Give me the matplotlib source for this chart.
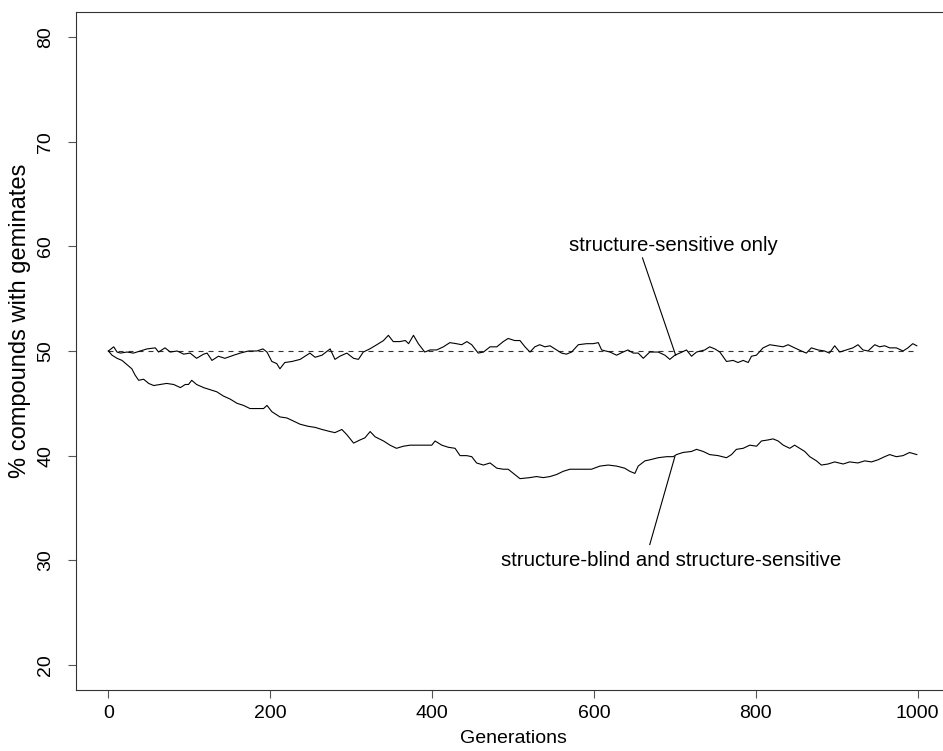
import matplotlib
matplotlib.use("Agg")
import matplotlib.pyplot as plt

plt.rcParams['font.family'] = ['Liberation Sans', 'DejaVu Sans']

# structure-sensitive only (upper line)
gen_a = [0, 6.6, 10.7, 14.8, 23, 31, 39.5, 47.7, 58, 62, 70, 76.5, 85, 93, 101, 109, 117.7,
         122, 128, 136, 144, 155, 163, 173, 183.5, 191, 196, 202, 208, 212, 218, 227, 237,
         249, 255.5, 264, 274, 280, 286, 294.7, 303, 309, 315, 323, 331.7, 340, 346, 352,
         360, 367, 371, 377, 383, 391, 397.5, 405.7, 414, 422, 430, 436.6, 443, 449, 457,
         463.5, 471.7, 480, 488, 494, 502, 508.6, 514.8, 521, 527, 533, 539.5, 545.7, 554,
         560, 566, 572.4, 580.7, 591, 599, 605.4, 609.5, 619.8, 628, 636, 642, 648.6, 654.7,
         661, 669, 679.4, 687.7, 693.8, 700, 706, 714.4, 720.6, 726.8, 737, 743, 749.4, 755.6,
         763.8, 772, 778, 784.4, 790.6, 794.7, 800.8, 809, 817.3, 825.5, 833.8, 840, 848,
         856.4, 862.5, 868.7, 877, 885, 891, 897.5, 903.7, 912, 920, 926.3, 932.5, 938.7,
         947, 953, 959.3, 965.4, 973.7, 982, 988, 994, 999]
pct_a = [50.0, 50.4, 49.9, 49.8, 49.9, 49.8, 50.0, 50.2, 50.3, 49.9, 50.3, 49.9, 50.0, 49.7,
         49.8, 49.3, 49.7, 49.8, 49.1, 49.5, 49.3, 49.6, 49.8, 50.0, 50.0, 50.2, 49.9, 49.0,
         48.8, 48.3, 48.9, 49.0, 49.2, 49.8, 49.4, 49.6, 50.2, 49.2, 49.5, 49.8, 49.3, 49.2,
         49.9, 50.2, 50.6, 51.0, 51.5, 50.9, 50.9, 51.0, 50.7, 51.5, 50.7, 49.9, 50.1, 50.1,
         50.4, 50.8, 50.7, 50.6, 50.9, 50.6, 49.8, 49.9, 50.4, 50.4, 50.9, 51.2, 51.0, 51.0,
         50.4, 49.9, 50.4, 50.6, 50.4, 50.5, 50.1, 49.8, 49.7, 49.9, 50.6, 50.7, 50.7, 50.8,
         50.1, 49.9, 49.6, 49.9, 50.1, 49.8, 49.8, 49.3, 49.9, 49.9, 49.6, 49.2, 49.6, 49.8,
         50.1, 49.5, 49.9, 50.1, 50.4, 50.2, 49.9, 49.0, 49.1, 48.9, 49.1, 48.9, 49.5, 49.6,
         50.3, 50.6, 50.5, 50.4, 50.6, 50.3, 50.0, 49.8, 50.3, 50.1, 50.0, 49.8, 50.5, 49.9,
         50.1, 50.3, 50.6, 50.1, 50.0, 50.6, 50.4, 50.5, 50.3, 50.3, 50.0, 50.3, 50.7, 50.5]

# structure-blind and structure-sensitive (lower line)
gen_b = [0, 4.5, 10.7, 16.9, 23, 29, 33, 37.4, 43.6, 49.8, 56, 64, 72, 80.7, 89, 95, 99, 103,
         109, 117.7, 126, 134, 142, 150.6, 159, 167, 175, 183.5, 191.8, 196, 202, 212, 220.6,
         228.8, 237, 247, 255.5, 264, 274, 280, 288.5, 294.7, 303, 311, 317, 323.5, 329.6,
         340, 348, 356, 364.6, 373, 383, 391, 399.6, 403.7, 412, 420, 428.4, 434.6, 442.8,
         449, 455, 463.4, 471.7, 480, 488, 494, 502, 508.6, 521, 529, 537.5, 545.7, 554, 562,
         570.4, 578.6, 587, 597, 607.4, 617.7, 628, 638, 644.4, 650.6, 654.7, 663, 669.1,
         679.4, 689.7, 698, 702, 710, 720.6, 726.8, 735, 743, 753.5, 763.8, 770, 776, 784.4,
         792.6, 801, 807, 815.2, 821.4, 827.6, 834, 842, 848, 854.3, 860.5, 866.7, 875, 881,
         889.3, 897.5, 908, 916, 926.3, 934.6, 943, 951, 959.3, 965.4, 973.7, 982, 990, 999]
pct_b = [50.0, 49.6, 49.3, 49.1, 48.7, 48.3, 47.7, 47.2, 47.3, 46.9, 46.7, 46.8, 46.9, 46.8,
         46.5, 46.8, 46.8, 47.2, 46.8, 46.5, 46.3, 46.1, 45.7, 45.4, 45.0, 44.8, 44.5, 44.5,
         44.5, 44.8, 44.2, 43.7, 43.6, 43.3, 43.0, 42.8, 42.7, 42.5, 42.3, 42.2, 42.5, 42.0,
         41.2, 41.5, 41.7, 42.3, 41.8, 41.4, 41.0, 40.7, 40.9, 41.0, 41.0, 41.0, 41.0, 41.4,
         41.0, 40.8, 40.7, 40.0, 40.0, 39.9, 39.3, 39.1, 39.3, 38.8, 38.7, 38.7, 38.2, 37.8,
         37.9, 38.0, 37.9, 38.0, 38.2, 38.5, 38.7, 38.7, 38.7, 38.7, 39.0, 39.1, 39.0, 38.8,
         38.5, 38.3, 39.0, 39.5, 39.6, 39.8, 39.9, 39.9, 40.1, 40.3, 40.4, 40.6, 40.4, 40.1,
         40.0, 39.8, 40.1, 40.6, 40.7, 41.0, 40.9, 41.4, 41.5, 41.6, 41.4, 41.0, 40.7, 41.0,
         40.7, 40.4, 39.9, 39.5, 39.1, 39.2, 39.4, 39.2, 39.4, 39.3, 39.5, 39.4, 39.6, 39.9,
         40.1, 39.9, 40.0, 40.3, 40.1]

fig = plt.figure(figsize=(9.43, 7.51), dpi=100)
ax = fig.add_axes([76 / 943, 61 / 751, 874 / 943, 678 / 751])

ax.plot([0, 1000], [50, 50], color='#333333', lw=0.8, dashes=(4.5, 4.5))
ax.plot(gen_a, pct_a, color='black', lw=0.8)
ax.plot(gen_b, pct_b, color='black', lw=0.8)

# labels with leader lines
ax.text(698, 60.1, 'structure-sensitive only', ha='center', va='center', fontsize=14.7)
ax.plot([660, 701], [58.9, 49.6], color='black', lw=0.8)
ax.text(696, 30.0, 'structure-blind and structure-sensitive', ha='center', va='center',
        fontsize=14.7)
ax.plot([669, 700], [31.5, 39.9], color='black', lw=0.8)

ax.set_xlim(-40, 1040)
ax.set_ylim(17.6, 82.4)
ax.set_xticks([0, 200, 400, 600, 800, 1000])
ax.set_yticks([20, 30, 40, 50, 60, 70, 80])
for lab in ax.get_yticklabels():
    lab.set_rotation(90)
    lab.set_va('center')
ax.tick_params(direction='out', length=5.8, width=0.8, color='#555555', labelsize=14)
ax.tick_params(axis='x', pad=5)
ax.tick_params(axis='y', pad=10)
for sp in ax.spines.values():
    sp.set_linewidth(0.8)
    sp.set_color('#333333')
ax.spines['right'].set_visible(False)

ax.set_xlabel('Generations', fontsize=14, labelpad=6)
ax.set_ylabel('% compounds with geminates', fontsize=17)
ax.yaxis.set_label_coords(-0.052, 0.545)

fig.savefig('out.png', dpi=100)
